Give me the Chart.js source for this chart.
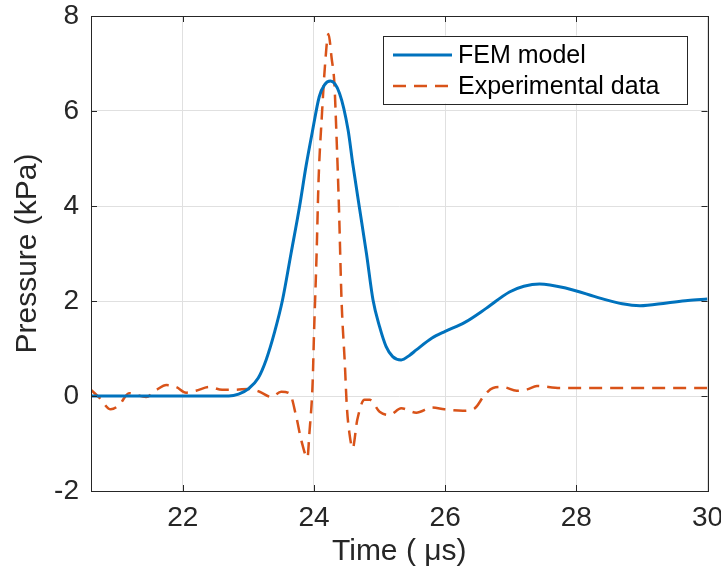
<!DOCTYPE html>
<html><head><meta charset="utf-8">
<script src="https://cdn.jsdelivr.net/npm/chart.js@4/dist/chart.umd.min.js"></script>
<style>html,body{margin:0;padding:0;background:#fff}#wrap{width:721px;height:571px;position:relative}</style>
</head><body><div id="wrap"><canvas id="c" width="721" height="571"></canvas></div>
<script>
// ---- data ----
const femTime = [20.6,21.0,21.5,22.0,22.5,22.7,22.85,23.0,23.15,23.27,23.4,23.52,23.65,23.78,23.88,23.98,24.08,24.16,24.25,24.39,24.52,24.59,24.69,24.8,24.9,25.0,25.1,25.2,25.33,25.46,25.56,25.8,26.0,26.3,26.63,26.98,27.2,27.44,27.85,28.36,28.7,28.97,29.38,29.7,30.0];
const femPressure = [0,0,0,0,0,0,0.04,0.15,0.38,0.76,1.35,2.02,3.0,3.99,4.85,5.6,6.3,6.55,6.63,6.37,5.6,4.9,3.99,3.0,2.02,1.46,1.04,0.83,0.76,0.86,0.97,1.22,1.36,1.55,1.85,2.19,2.31,2.36,2.27,2.06,1.94,1.9,1.96,2.01,2.04];
const expTime = [20.6,20.73,20.9,21.03,21.18,21.44,21.6,21.75,21.9,22.05,22.2,22.4,22.6,22.8,23.0,23.17,23.35,23.5,23.63,23.73,23.81,23.9,23.93,23.98,24.0,24.04,24.07,24.12,24.17,24.22,24.27,24.31,24.34,24.38,24.42,24.47,24.5,24.54,24.59,24.66,24.77,24.85,25.0,25.15,25.33,25.56,25.8,25.99,26.27,26.45,26.6,26.73,26.88,27.09,27.25,27.4,27.75,28.5,29.0,29.5,30.0];
const expPressure = [0.13,-0.04,-0.28,-0.19,0.06,-0.02,0.13,0.23,0.19,0.07,0.11,0.19,0.13,0.13,0.15,0.09,-0.02,0.09,0.05,-0.44,-0.95,-1.3,-0.78,0.3,1.3,3.0,4.55,5.9,7.0,7.62,7.1,6.6,5.6,4.0,2.02,0.69,-0.2,-0.78,-1.1,-0.5,-0.08,-0.08,-0.33,-0.4,-0.26,-0.35,-0.24,-0.28,-0.31,-0.26,0.02,0.17,0.19,0.11,0.14,0.21,0.17,0.17,0.17,0.17,0.17];
const xTicks = [22,24,26,28,30];
const yTicks = [-2,0,2,4,6,8];
const seriesNames = ['FEM model','Experimental data'];
const xTitle = 'Time ( μs)';
const yTitle = 'Pressure (kPa)';

const FONT = '"Liberation Sans", Arial, Helvetica, sans-serif';
const AXIS = '#262626';
const toPts = (xs, ys) => xs.map((x, i) => ({x, y: ys[i]}));

const boxPlugin = {
  id: 'matlabBox',
  afterDatasetsDraw(chart) {
    const {ctx, chartArea: a, scales: {x, y}} = chart;
    ctx.save();
    ctx.strokeStyle = AXIS; ctx.lineWidth = 1;
    ctx.beginPath();
    const L = 6;
    xTicks.forEach(v => {
      const px = Math.round(x.getPixelForValue(v)) + 0.5;
      ctx.moveTo(px, a.bottom); ctx.lineTo(px, a.bottom - L);
      ctx.moveTo(px, a.top); ctx.lineTo(px, a.top + L);
    });
    yTicks.forEach(v => {
      const py = Math.round(y.getPixelForValue(v)) + 0.5;
      ctx.moveTo(a.left, py); ctx.lineTo(a.left + L, py);
      ctx.moveTo(a.right, py); ctx.lineTo(a.right - L, py);
    });
    ctx.stroke();
    ctx.strokeRect(Math.round(a.left) + 0.5, Math.round(a.top) + 0.5, Math.round(a.right - a.left), Math.round(a.bottom - a.top));
    ctx.restore();
  },
  afterDraw(chart) {
    const {ctx, chartArea: a} = chart;
    const bx = a.right - 324.5, by = a.top + 19.5, bw = 304, bh = 68;
    ctx.save();
    ctx.fillStyle = '#fff';
    ctx.fillRect(bx, by, bw, bh);
    ctx.strokeStyle = AXIS; ctx.lineWidth = 1;
    ctx.strokeRect(Math.round(bx) + 0.5, Math.round(by) + 0.5, bw, bh);
    ctx.font = '25px ' + FONT;
    ctx.textBaseline = 'middle';
    ctx.fillStyle = '#000';
    chart.data.datasets.forEach((ds, i) => {
      const cy = by + 19.5 + i * 31;
      ctx.beginPath();
      ctx.strokeStyle = ds.borderColor;
      ctx.lineWidth = ds.borderWidth;
      ctx.setLineDash(ds.borderDash || []);
      ctx.moveTo(bx + 10, cy); ctx.lineTo(bx + 69, cy);
      ctx.stroke();
      ctx.setLineDash([]);
      ctx.fillText(ds.label, bx + 75, cy + 1);
    });
    ctx.restore();
  }
};

new Chart(document.getElementById('c'), {
  type: 'line',
  data: {
    datasets: [
      {label: seriesNames[0], data: toPts(femTime, femPressure), borderColor: '#0072BD', borderWidth: 3, pointRadius: 0, cubicInterpolationMode: 'monotone', fill: false},
      {label: seriesNames[1], data: toPts(expTime, expPressure), borderColor: '#D95319', borderWidth: 2.5, borderDash: [13, 8], pointRadius: 0, cubicInterpolationMode: 'monotone', fill: false}
    ]
  },
  options: {
    responsive: false, animation: false, devicePixelRatio: 1,
    layout: {padding: {top: 16, right: 13.5, left: 0, bottom: 0}},
    plugins: {legend: {display: false}, tooltip: {enabled: false}},
    scales: {
      x: {
        type: 'linear', min: 20.6, max: 30,
        afterBuildTicks: s => { s.ticks = xTicks.map(v => ({value: v})); },
        afterFit: s => { s.height = 80; s.paddingLeft = 0; s.paddingRight = 0; },
        grid: {color: '#e0e0e0', drawTicks: false, lineWidth: 1},
        border: {display: true, color: AXIS, width: 1},
        ticks: {padding: 10, color: AXIS, font: {family: FONT, size: 28}, maxRotation: 0},
        title: {display: true, text: xTitle, color: AXIS, font: {family: FONT, size: 30}, padding: {top: 0, bottom: 1}}
      },
      y: {
        type: 'linear', min: -2, max: 8,
        afterBuildTicks: s => { s.ticks = yTicks.map(v => ({value: v})); },
        afterFit: s => { s.width = 91; s.paddingTop = 0; s.paddingBottom = 0; },
        grid: {color: '#e0e0e0', drawTicks: false, lineWidth: 1},
        border: {display: true, color: AXIS, width: 1},
        ticks: {padding: 12, color: AXIS, font: {family: FONT, size: 28}},
        title: {display: true, text: yTitle, color: AXIS, font: {family: FONT, size: 30}, padding: {top: 10, bottom: 0}}
      }
    }
  },
  plugins: [boxPlugin]
});
</script>
</body></html>
